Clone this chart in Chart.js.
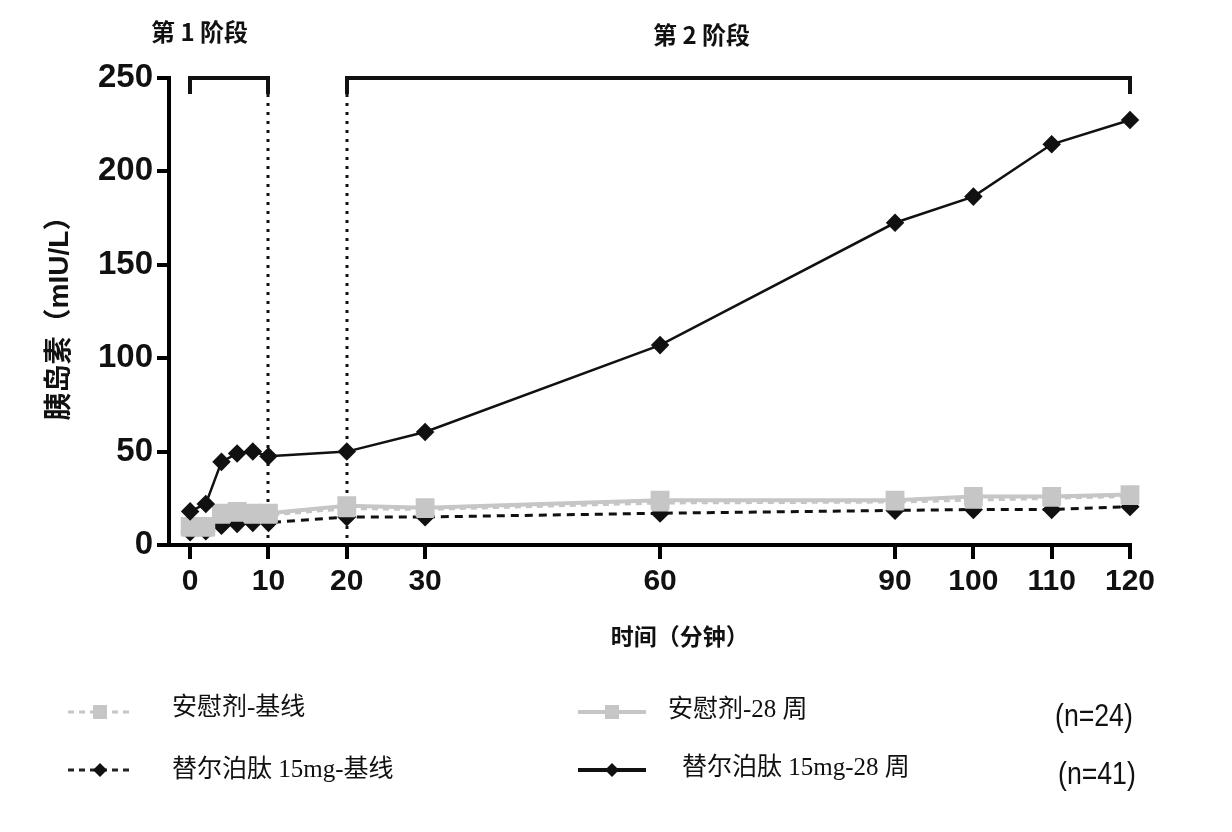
<!DOCTYPE html>
<html>
<head>
<meta charset="utf-8">
<script src="https://cdn.jsdelivr.net/npm/chart.js@4.4.1/dist/chart.umd.min.js"></script>
<style>
  body { margin: 0; background: #fff; }
  #wrap { position: relative; width: 1232px; height: 832px; }
  #wrap canvas { position: absolute; left: 0; top: 0; }
  .lg { position: absolute; font-family: "Liberation Serif", "Noto Sans CJK SC", serif; font-size: 25px; line-height: 1; color: #111; white-space: nowrap; }
  .n { position: absolute; font-family: "Liberation Sans", sans-serif; font-size: 31px; line-height: 1; color: #111; transform: scaleX(0.86); transform-origin: left center; }
  .sample { position: absolute; }
</style>
</head>
<body>
<div id="wrap">
  <canvas id="insulinChart" width="1232" height="832"></canvas>

  <!-- legend, row 1: placebo -->
  <svg class="sample" style="left:66px;top:700px" width="70" height="24">
    <line x1="2" y1="12" x2="68" y2="12" stroke="#c6c6c6" stroke-width="3" stroke-dasharray="6 5"/>
    <rect x="27" y="5" width="14" height="14" fill="#c6c6c6"/>
  </svg>
  <div class="lg" style="left:172px;top:694px">安慰剂-基线</div>
  <svg class="sample" style="left:576px;top:700px" width="72" height="24">
    <line x1="2" y1="12" x2="70" y2="12" stroke="#c6c6c6" stroke-width="4"/>
    <rect x="29" y="5" width="14" height="14" fill="#c6c6c6"/>
  </svg>
  <div class="lg" style="left:668px;top:696px">安慰剂-28 周</div>
  <div class="n" style="left:1055px;top:700px">(n=24)</div>

  <!-- legend, row 2: tirzepatide -->
  <svg class="sample" style="left:66px;top:758px" width="70" height="24">
    <line x1="2" y1="12" x2="68" y2="12" stroke="#222" stroke-width="3" stroke-dasharray="6 5"/>
    <polygon points="34,5 41,12 34,19 27,12" fill="#111"/>
  </svg>
  <div class="lg" style="left:172px;top:756px">替尔泊肽 15mg-基线</div>
  <svg class="sample" style="left:576px;top:758px" width="72" height="24">
    <line x1="2" y1="12" x2="70" y2="12" stroke="#111" stroke-width="4"/>
    <polygon points="36,5 43,12 36,19 29,12" fill="#111"/>
  </svg>
  <div class="lg" style="left:682px;top:754px">替尔泊肽 15mg-28 周</div>
  <div class="n" style="left:1058px;top:758px">(n=41)</div>
</div>

<script>
// Sampling times in minutes
const times = [0, 2, 4, 6, 8, 10, 20, 30, 60, 90, 100, 110, 120];

// Insulin (mIU/L)
const placeboBase = [9, 9, 16, 17, 16, 16, 19.5, 19, 22.5, 23, 24, 25, 26];
const placebo28 = [10, 10, 17, 18, 17, 17, 21, 20, 24, 24, 26, 26, 27];
const tirzBase = [7, 7.5, 10.5, 11.5, 12, 12, 15, 15, 17, 18.5, 19, 19, 20.5];
const tirz28 = [18, 22, 44.5, 49, 50, 47.5, 50, 60.5, 107, 172.5, 186.5, 214.5, 227.5];

// Axis ticks
const xTicks = [0, 10, 20, 30, 60, 90, 100, 110, 120];
const yTicks = [0, 50, 100, 150, 200, 250];

// Phases (minutes)
const phaseLabels = ['第 1 阶段', '第 2 阶段'];
const phaseStart = [0, 20];
const phaseEnd = [10, 120];
const xTitle = '时间（分钟）';

const grey = '#c6c6c6';
const toPoints = arr => times.map((t, i) => ({ x: t, y: arr[i] }));

// Brackets, dotted phase borders, phase titles and x title
const phasePlugin = {
  id: 'phases',
  beforeDatasetsDraw(chart) {
    const { ctx, scales: { x, y } } = chart;
    const top = y.getPixelForValue(yTicks[yTicks.length - 1]);
    const bottom = y.getPixelForValue(0);
    ctx.save();
    ctx.strokeStyle = '#111';

    // dotted lines between the phases
    ctx.lineWidth = 3;
    ctx.setLineDash([3, 6]);
    [phaseEnd[0], phaseStart[1]].forEach(v => {
      const px = Math.round(x.getPixelForValue(v));
      ctx.beginPath();
      ctx.moveTo(px, top + 16);
      ctx.lineTo(px, bottom);
      ctx.stroke();
    });

    // brackets
    ctx.setLineDash([]);
    ctx.lineWidth = 4;
    phaseStart.forEach((s, i) => {
      const a = Math.round(x.getPixelForValue(s));
      const b = Math.round(x.getPixelForValue(phaseEnd[i]));
      ctx.beginPath();
      ctx.moveTo(a, top + 16);
      ctx.lineTo(a, top);
      ctx.lineTo(b, top);
      ctx.lineTo(b, top + 16);
      ctx.stroke();
    });

    // phase titles
    ctx.fillStyle = '#111';
    ctx.font = 'bold 24px "Noto Sans CJK SC"';
    ctx.textAlign = 'center';
    ctx.textBaseline = 'middle';
    const labelAt = [1.2, 65.3];
    phaseLabels.forEach((txt, i) => {
      ctx.fillText(txt, x.getPixelForValue(labelAt[i]), top - 46 + i * 3);
    });

    // x axis title, sits right of the plot centre as in the source
    ctx.font = 'bold 23px "Noto Sans CJK SC"';
    ctx.fillText(xTitle, x.getPixelForValue(62.5), bottom + 91);
    ctx.restore();
  }
};

const ctx = document.getElementById('insulinChart').getContext('2d');

new Chart(ctx, {
  type: 'line',
  data: {
    datasets: [
      {
        label: '替尔泊肽 15mg-28 周',
        data: toPoints(tirz28),
        borderColor: '#111',
        backgroundColor: '#111',
        borderWidth: 2.5,
        pointStyle: 'rectRot',
        pointRadius: 7.5,
        clip: false,
      },
      {
        label: '安慰剂-28 周',
        data: toPoints(placebo28),
        borderColor: grey,
        backgroundColor: grey,
        borderWidth: 4,
        pointStyle: 'rect',
        pointRadius: 10.5,
        clip: false,
      },
      {
        label: '安慰剂-基线',
        data: toPoints(placeboBase),
        borderColor: grey,
        backgroundColor: grey,
        borderWidth: 3,
        borderDash: [6, 5],
        pointStyle: 'rect',
        pointRadius: 10,
        clip: false,
      },
      {
        label: '替尔泊肽 15mg-基线',
        data: toPoints(tirzBase),
        borderColor: '#111',
        backgroundColor: '#111',
        borderWidth: 3,
        borderDash: [8, 6],
        pointStyle: 'rectRot',
        pointRadius: 7.5,
        clip: false,
      },
    ],
  },
  options: {
    responsive: false,
    animation: false,
    layout: { padding: { left: 0, top: 78, right: 102, bottom: 177 } },
    plugins: {
      legend: { display: false },
      tooltip: { enabled: false },
    },
    scales: {
      x: {
        type: 'linear',
        min: -2.7,
        max: 120,
        afterBuildTicks: s => { s.ticks = xTicks.map(v => ({ value: v })); },
        afterFit: s => { s.height = 110; },
        border: { color: '#000', width: 4 },
        grid: { drawOnChartArea: false, drawTicks: true, tickLength: 14, lineWidth: 4, color: '#000' },
        ticks: {
          autoSkip: false,
          maxRotation: 0,
          padding: 5,
          color: '#111',
          font: { family: 'Liberation Sans', size: 30, weight: 'bold' },
        },
        title: { display: false },
      },
      y: {
        min: 0,
        max: 250,
        afterBuildTicks: s => { s.ticks = yTicks.map(v => ({ value: v })); },
        afterFit: s => { s.width = 169; },
        border: { color: '#000', width: 4 },
        grid: { drawOnChartArea: false, drawTicks: true, tickLength: 12, lineWidth: 4, color: '#000' },
        ticks: {
          padding: 4,
          color: '#111',
          font: { family: 'Liberation Sans', size: 33, weight: 'bold' },
        },
        title: {
          display: true,
          text: '胰岛素（mIU/L）',
          color: '#111',
          font: { family: '"Liberation Sans", "Noto Sans CJK SC"', size: 28, weight: 'bold' },
          padding: { top: 43 },
        },
      },
    },
  },
  plugins: [phasePlugin],
});
</script>
</body>
</html>
